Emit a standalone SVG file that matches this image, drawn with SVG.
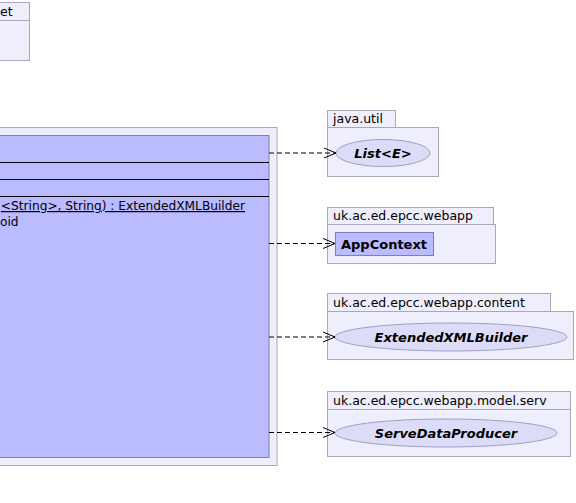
<svg xmlns="http://www.w3.org/2000/svg" width="576" height="503" viewBox="0 0 576 503">
<defs>
<style>
.pkg{fill:#eeeefc;stroke:#a8a8b8;stroke-width:1}
.cls{fill:#bbbbff;stroke:#7f7fb0;stroke-width:1}
.ell{fill:#dcdcf8;stroke:#a0a0c0;stroke-width:1}
.t{font-family:"DejaVu Sans",sans-serif;font-size:12.5px;fill:#000}
.m{font-family:"DejaVu Sans",sans-serif;font-size:12.2px;fill:#000}
.b{font-family:"DejaVu Sans",sans-serif;font-size:13px;font-weight:bold;fill:#000}
.bi{font-family:"DejaVu Sans",sans-serif;font-size:13px;font-weight:bold;font-style:italic;fill:#000}
.sep{stroke:#000;stroke-width:1}
.dep{fill:none;stroke:#000;stroke-width:1;stroke-dasharray:5,3}
.ah{fill:none;stroke:#000;stroke-width:1}
</style>
<marker id="open" markerWidth="14" markerHeight="12" refX="13" refY="6" orient="auto" markerUnits="userSpaceOnUse">
<path d="M1,1 L13,6 L1,11" class="ah"/>
</marker>
</defs>
<g id="pkg-topleft">
<rect x="-10" y="2.5" width="39.5" height="18" class="pkg"/>
<rect x="-10" y="20.5" width="39.5" height="40" class="pkg"/>
<text x="0" y="16" class="t">et</text>
</g>
<g id="pkg-main">
<rect x="-10" y="127.5" width="287" height="338" class="pkg"/>
<rect x="-10" y="135.5" width="279" height="322" class="cls"/>
<line x1="-10" y1="162.5" x2="269" y2="162.5" class="sep"/>
<line x1="-10" y1="179.5" x2="269" y2="179.5" class="sep"/>
<line x1="-10" y1="196.5" x2="269" y2="196.5" class="sep"/>
<text x="245" y="210" text-anchor="end" class="m" text-decoration="underline">&lt;String&gt;, String) : ExtendedXMLBuilder</text>
<text x="0" y="226" class="m">oid</text>
</g>
<g id="pkg-java-util">
<rect x="327.5" y="110.5" width="68" height="17" class="pkg"/>
<rect x="327.5" y="127.5" width="111" height="49" class="pkg"/>
<text x="333" y="123" class="t">java.util</text>
<g id="List">
<ellipse cx="383" cy="153" rx="47" ry="13.5" class="ell"/>
<text x="383" y="158" text-anchor="middle" class="bi">List&lt;E&gt;</text>
</g>
</g>
<g id="pkg-webapp">
<rect x="327.5" y="207.5" width="166" height="17" class="pkg"/>
<rect x="327.5" y="224.5" width="168" height="39" class="pkg"/>
<text x="333" y="220" class="t">uk.ac.ed.epcc.webapp</text>
<g id="AppContext">
<rect x="335.5" y="232.5" width="98" height="23" class="cls"/>
<text x="341" y="249" class="b">AppContext</text>
</g>
</g>
<g id="pkg-content">
<rect x="327.5" y="293.5" width="223" height="18" class="pkg"/>
<rect x="327.5" y="311.5" width="246" height="48" class="pkg"/>
<text x="333" y="307" class="t">uk.ac.ed.epcc.webapp.content</text>
<g id="ExtendedXMLBuilder">
<ellipse cx="451" cy="337" rx="116" ry="14" class="ell"/>
<text x="451" y="342" text-anchor="middle" class="bi">ExtendedXMLBuilder</text>
</g>
</g>
<g id="pkg-serv">
<rect x="327.5" y="391.5" width="243" height="18" class="pkg"/>
<rect x="327.5" y="409.5" width="243" height="47" class="pkg"/>
<text x="333" y="405" class="t">uk.ac.ed.epcc.webapp.model.serv</text>
<g id="ServeDataProducer">
<ellipse cx="446" cy="433" rx="111" ry="14" class="ell"/>
<text x="446" y="438" text-anchor="middle" class="bi">ServeDataProducer</text>
</g>
</g>
<g id="connectors">
<line x1="269" y1="153" x2="336" y2="153" class="dep" marker-end="url(#open)"/>
<line x1="269" y1="243.5" x2="335" y2="243.5" class="dep" marker-end="url(#open)"/>
<line x1="269" y1="337" x2="335" y2="337" class="dep" marker-end="url(#open)"/>
<line x1="269" y1="432.5" x2="335" y2="432.5" class="dep" marker-end="url(#open)"/>
</g>
</svg>
